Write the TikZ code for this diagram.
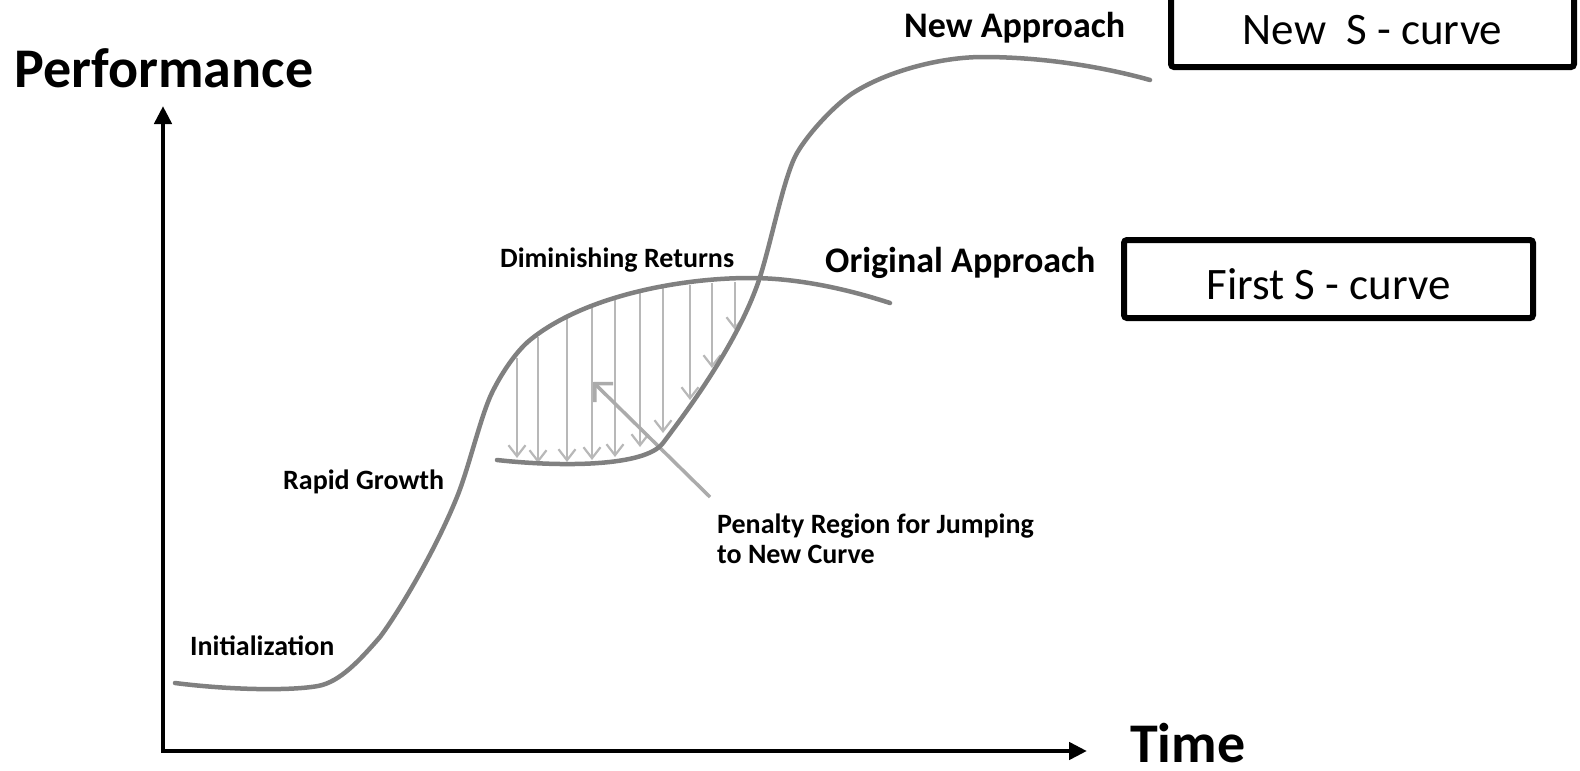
\documentclass[tikz,border=0pt]{standalone}
\usepackage{fontspec}
\setmainfont{Carlito}
\usetikzlibrary{arrows.meta}
\begin{document}
\begin{tikzpicture}[x=1pt,y=-1pt,
  axis/.style={line width=4.5pt, black, line join=miter},
  scurve/.style={line width=4.5pt, draw=black!50, line cap=round},
  penarrow/.style={line width=2.2pt, draw=black!28, -{Straight Barb[length=11pt,width=17pt]}},
  bigarrow/.style={line width=3.5pt, draw=black!33, -{Straight Barb[length=13pt,width=26pt]}},
  biglabel/.style={font=\fontsize{56}{60}\selectfont\bfseries, inner sep=0},
  midlabel/.style={font=\fontsize{36}{40}\selectfont\bfseries, inner sep=0, anchor=base west},
  smalllabel/.style={font=\fontsize{28}{30}\selectfont\bfseries, inner sep=0, anchor=base west},
  boxlabel/.style={draw, line width=6pt, rounded corners=3pt, font=\fontsize{45}{48}\selectfont, inner sep=0}
]
\clip (0,0) rectangle (1580,771);
\fill[white] (0,0) rectangle (1580,771);

% axes
\coordinate (origin) at (163,751);
\coordinate (ytip) at (163,106);
\coordinate (xtip) at (1087,751);
\draw[axis, {Triangle[length=18pt,width=17pt]}-{Triangle[length=18pt,width=17pt]}] (ytip) -- (origin) -- (xtip);

\node[biglabel, anchor=base] (perf) at (164,87) {Performance};
\node[biglabel, anchor=base west] (time) at (1130,762) {Time};

% penalty arrows
\foreach \x/\ya/\yb in {517/358/458, 538/337/463, 567/317/462, 592/305/460, 615/298/457,
                        640/292/447, 663/288/433, 690/285/400, 712/283/368, 735/282/330}
  \draw[penarrow] (\x,\ya) -- (\x,\yb);

% penalty pointer
\coordinate (pentail) at (710,497);
\coordinate (penhead) at (593,382);
\draw[bigarrow] (pentail) -- (penhead);

% first S-curve
\draw[scurve] (175,683) .. controls (230,690) and (290,691) .. (318,686)
  .. controls (340,682) and (360,660) .. (380,637)
  .. controls (398,613) and (434.4,552.6) .. (457,497)
  .. controls (468,470) and (479,423) .. (490,397)
  .. controls (498,379) and (514.5,352.6) .. (530,340)
  .. controls (584,296) and (680,278) .. (750,278)
  .. controls (800,278) and (850,290) .. (890,303);

% new S-curve
\draw[scurve] (497,460) .. controls (560,467) and (645,467) .. (663,443)
  .. controls (684,415) and (738.5,343.6) .. (760,277)
  .. controls (772,239) and (784.4,174.5) .. (797,153)
  .. controls (809.6,131.4) and (836.2,103.8) .. (853,93)
  .. controls (886.7,71.4) and (940,57) .. (983,57)
  .. controls (1040,57) and (1100,66) .. (1150,80);

% labels
\node[midlabel] (newapp) at (904,37) {New Approach};
\node[midlabel] (origapp) at (825,272) {Original Approach};
\node[smalllabel] (dimin) at (500,267) {Diminishing Returns};
\node[smalllabel] (rapid) at (283,489) {Rapid Growth};
\node[smalllabel] (init) at (190,655) {Initialization};
\node[smalllabel] (pen1) at (717,533) {Penalty Region for Jumping};
\node[smalllabel] (pen2) at (717,563) {to New Curve};

% boxes
\node[boxlabel, minimum width=409pt, minimum height=78pt, text height=40pt, text depth=0pt] (firstbox) at (1328.5,279) {First S - curve};
\node[boxlabel, minimum width=403pt, minimum height=80pt, text height=34pt, text depth=0pt] (newbox) at (1372.5,27) {New\ \ S - curve};
\end{tikzpicture}
\end{document}
